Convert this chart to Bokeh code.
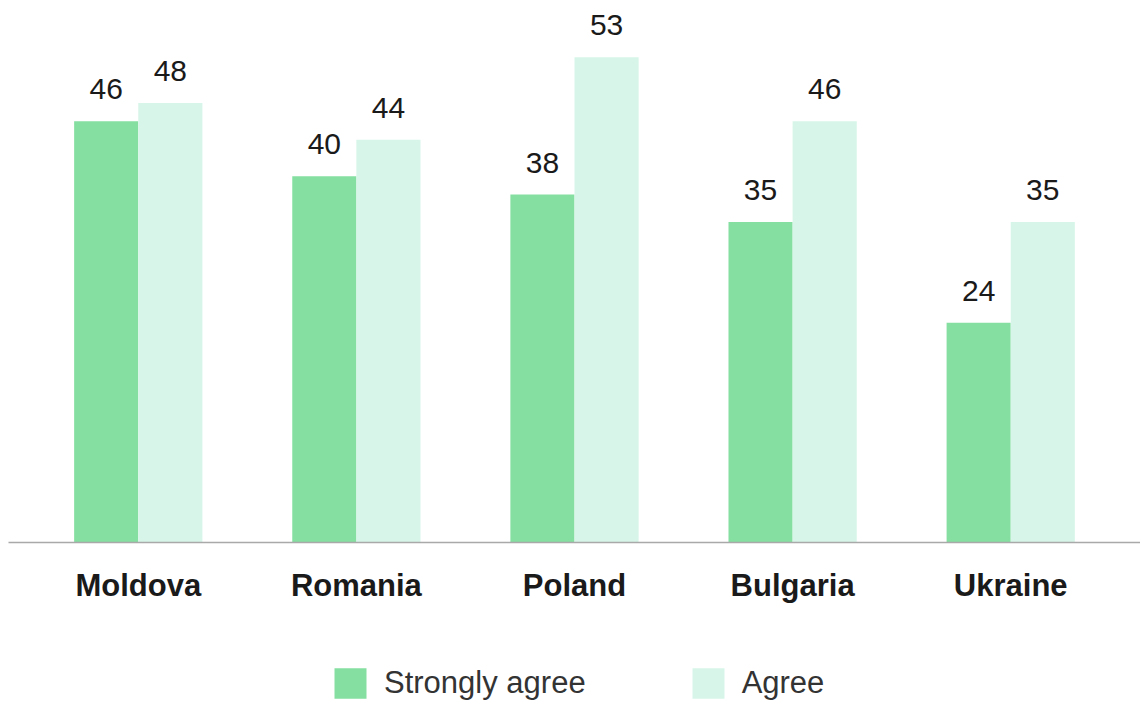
from bokeh.plotting import figure
from bokeh.models import ColumnDataSource, FactorRange, Range1d, Legend, LegendItem
from bokeh.layouts import column
from bokeh.transform import dodge
from bokeh.core.properties import value
from bokeh.embed import file_html
from bokeh.resources import INLINE

countries = ["Moldova", "Romania", "Poland", "Bulgaria", "Ukraine"]
strongly_agree = [46, 40, 38, 35, 24]
agree = [48, 44, 53, 46, 35]
series_names = ["Strongly agree", "Agree"]

C_STRONG = "#84DFA0"
C_AGREE = "#D7F6E9"
FONT = "Liberation Sans"

src = ColumnDataSource(dict(
    country=countries,
    strong=strongly_agree,
    agree=agree,
    strong_lbl=[str(v) for v in strongly_agree],
    agree_lbl=[str(v) for v in agree],
))

p = figure(
    width=1140, height=640,
    x_range=FactorRange(*countries, range_padding=0.095, range_padding_units="absolute"),
    y_range=Range1d(0, 59.2),
    output_backend="svg", toolbar_location=None,
    min_border_left=8, min_border_right=0, min_border_top=0, min_border_bottom=98,
)
p.outline_line_color = None
p.xgrid.grid_line_color = None
p.ygrid.grid_line_color = None
p.yaxis.visible = False

bw = 0.294
r1 = p.vbar(x=dodge("country", -bw / 2, range=p.x_range), top="strong", width=bw,
            bottom=0, source=src, fill_color=C_STRONG, line_color=None)
r2 = p.vbar(x=dodge("country", bw / 2, range=p.x_range), top="agree", width=bw,
            bottom=0, source=src, fill_color=C_AGREE, line_color=None)

for col, lbl, off in [("strong", "strong_lbl", -bw / 2), ("agree", "agree_lbl", bw / 2)]:
    p.text(x=dodge("country", off, range=p.x_range), y=col, text=lbl, source=src,
           text_align="center", text_baseline="alphabetic", y_offset=-32,
           text_font=value(FONT), text_font_size="30px", text_color="#1a1a1a")

ax = p.xaxis[0]
ax.axis_line_color = "#a9a9a9"
ax.axis_line_width = 1.5
ax.major_tick_line_color = None
ax.minor_tick_line_color = None
ax.major_label_standoff = 19
ax.major_label_text_font = FONT
ax.major_label_text_font_size = "31px"
ax.major_label_text_font_style = "bold"
ax.major_label_text_color = "#1a1a1a"

# legend strip below the chart (bars from the same data, kept far out of view below)
lg = figure(width=1140, height=62, x_range=p.x_range, y_range=Range1d(1000, 1001),
            output_backend="svg", toolbar_location=None,
            min_border_left=0, min_border_right=0, min_border_top=0, min_border_bottom=0)
lg.outline_line_color = None
lg.axis.visible = False
lg.grid.visible = False
g1 = lg.vbar(x=dodge("country", -bw / 2, range=lg.x_range), top="strong", width=bw,
             bottom=0, source=src, fill_color=C_STRONG, line_color=None)
g2 = lg.vbar(x=dodge("country", bw / 2, range=lg.x_range), top="agree", width=bw,
             bottom=0, source=src, fill_color=C_AGREE, line_color=None)

legend = Legend(
    items=[LegendItem(label=series_names[0], renderers=[g1]),
           LegendItem(label=series_names[1], renderers=[g2])],
    orientation="horizontal", location=(322, 0),
    glyph_width=40, glyph_height=38, label_standoff=14, spacing=102,
    padding=0, margin=0, border_line_color=None, background_fill_alpha=0,
    label_text_font=FONT, label_text_font_size="31px", label_text_color="#333333",
)
lg.add_layout(legend, "center")

open("out.html", "w").write(file_html(column(p, lg, spacing=0), INLINE))
